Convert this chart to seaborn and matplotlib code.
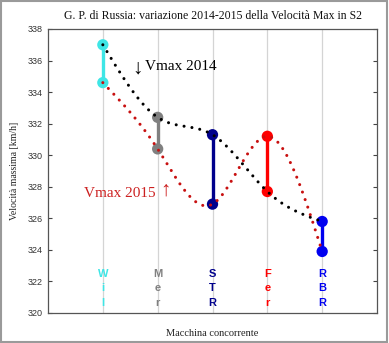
import numpy as np
import pandas as pd
import matplotlib
matplotlib.use("Agg")
import matplotlib.pyplot as plt
import seaborn as sns
from matplotlib.patches import Rectangle

# ---- data ----
teams = ["Wil", "Mer", "STR", "Fer", "RBR"]
team_colors = ["#3ee6e6", "#808080", "#00008c", "#ff0000", "#0000f0"]
vmax_2014 = [337.0, 332.4, 331.3, 327.7, 325.8]
vmax_2015 = [334.6, 330.4, 326.9, 331.2, 323.9]
yticks = [320, 322, 324, 326, 328, 330, 332, 334, 336, 338]
title = "G. P. di Russia: variazione 2014-2015 della Velocità Max in S2"
ylabel = "Velocità massima [km/h]"
xlabel = "Macchina concorrente"


def natural_spline(x, y, xs):
    x = np.asarray(x, float)
    y = np.asarray(y, float)
    n = len(x)
    h = np.diff(x)
    A = np.zeros((n, n))
    b = np.zeros(n)
    A[0, 0] = 1.0
    A[-1, -1] = 1.0
    for i in range(1, n - 1):
        A[i, i - 1] = h[i - 1]
        A[i, i] = 2 * (h[i - 1] + h[i])
        A[i, i + 1] = h[i]
        b[i] = 6 * ((y[i + 1] - y[i]) / h[i] - (y[i] - y[i - 1]) / h[i - 1])
    M = np.linalg.solve(A, b)
    out = np.empty_like(xs)
    for k, xv in enumerate(xs):
        i = min(max(np.searchsorted(x, xv) - 1, 0), n - 2)
        hi = h[i]
        a = x[i + 1] - xv
        c = xv - x[i]
        out[k] = (M[i] * a ** 3 / (6 * hi) + M[i + 1] * c ** 3 / (6 * hi)
                  + (y[i] - M[i] * hi ** 2 / 6) * a / hi
                  + (y[i + 1] - M[i + 1] * hi ** 2 / 6) * c / hi)
    return out


sns.set_theme(style="white")
plt.rcParams["font.family"] = ["Liberation Serif", "DejaVu Serif"]

fig = plt.figure(figsize=(3.89, 3.43), dpi=100)
ax = fig.add_axes([48 / 389, 1 - 313 / 343, (377 - 48) / 389, (313 - 29) / 343])

xpos = np.arange(1, len(teams) + 1)
df = pd.DataFrame({
    "x": np.concatenate([xpos, xpos]),
    "v": vmax_2014 + vmax_2015,
    "team": teams + teams,
})

# vertical grid
for xv in xpos:
    ax.axvline(xv, color="#d4d4d4", lw=0.9, zorder=0)

# connecting segments
for xv, a, b_, c in zip(xpos, vmax_2014, vmax_2015, team_colors):
    ax.plot([xv, xv], [a, b_], color=c, lw=2.4, zorder=2, solid_capstyle="butt")

sns.scatterplot(data=df, x="x", y="v", hue="team", palette=dict(zip(teams, team_colors)),
                s=66, edgecolor="none", legend=False, ax=ax, zorder=3)

xs = np.linspace(1, 5, 400)
ax.plot(xs, natural_spline(xpos, vmax_2014, xs), color="black", lw=2.2,
        linestyle=(0, (0.01, 2.6)), dash_capstyle="round", zorder=4)
ax.plot(xs, natural_spline(xpos, vmax_2015, xs), color="#c81010", lw=2.2,
        linestyle=(0, (0.01, 2.6)), dash_capstyle="round", zorder=4)

# team labels stacked vertically
for xv, t, c in zip(xpos, teams, team_colors):
    for j, ch in enumerate(t):
        ax.text(xv, 322.5 - 0.93 * j, ch, color=c, ha="center", va="center",
                fontsize=8, fontweight="bold", family=["Liberation Sans", "DejaVu Sans"],
                zorder=5)

serif = ["Liberation Serif", "DejaVu Serif"]
ax.text(1.63, 335.45, "↓", color="black", fontsize=15, ha="center", va="center", family=serif)
ax.text(1.77, 335.6, "Vmax 2014", color="black", fontsize=11, ha="left", va="center", family=serif)
ax.text(1.97, 327.55, "Vmax 2015", color="#cc2020", fontsize=11, ha="right", va="center", family=serif)
ax.text(2.14, 327.7, "↑", color="#cc2020", fontsize=15, ha="center", va="center", family=serif)

ax.set_xlim(0, 6)
ax.set_ylim(320, 338)
ax.set_xticks([])
ax.set_yticks(yticks)
ax.set_yticklabels([str(v) for v in yticks], family=["Liberation Sans", "DejaVu Sans"],
                   fontsize=6.5, color="#333333")
ax.tick_params(axis="y", direction="in", length=3, width=0.8, left=True, right=True,
               pad=4, colors="#444444", labelcolor="#333333")
for s in ax.spines.values():
    s.set_color("#555555")
    s.set_linewidth(0.9)
ax.set_xlabel("")
ax.set_ylabel("")
ax.set_title(title, fontsize=8.5, pad=7, color="#111111")
fig.text(15 / 389, 1 - 171 / 343, ylabel, rotation=90, ha="center", va="center",
         fontsize=7, color="#222222")
fig.text(212 / 389, 1 - 333 / 343, xlabel, ha="center", va="center",
         fontsize=7.5, color="#222222")

fig.patches.append(Rectangle((0.002, 0.003), 0.993, 0.993, transform=fig.transFigure,
                             fill=False, edgecolor="#9a9a9a", lw=1.5))

fig.savefig("out.png", dpi=100)
